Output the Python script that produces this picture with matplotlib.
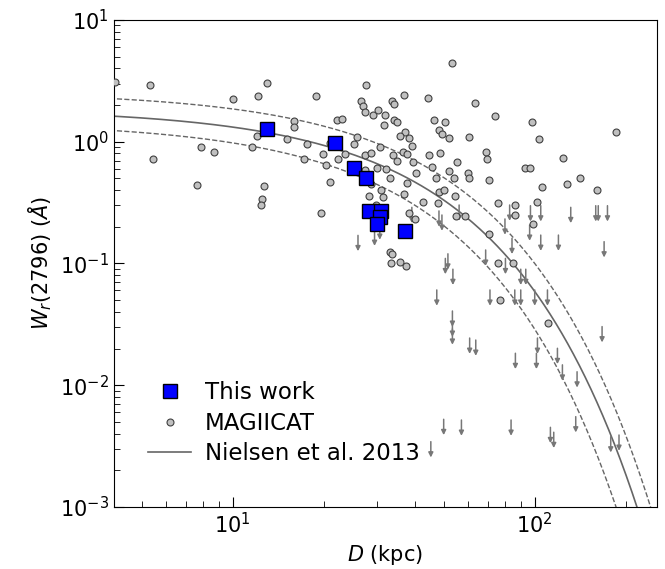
import numpy as np
import matplotlib
matplotlib.use("Agg")
import matplotlib.pyplot as plt

# This work
tw_D = [12.99, 21.8, 25.2, 27.6, 28.2, 31.1, 30.7, 30.1, 37.3]
tw_W = [1.27, 0.98, 0.61, 0.504, 0.271, 0.271, 0.239, 0.21, 0.186]

# MAGIICAT detections
mg_D = [4.09, 5.32, 10.0, 7.84, 8.67, 5.47, 7.62, 12.99, 12.13, 18.93,
        27.57, 26.6, 27.0, 27.5, 29.1, 30.3, 31.9, 16.0, 15.96, 22.1,
        23.1, 31.8, 12.07, 11.62, 15.13, 17.62, 25.8, 25.2, 30.7, 17.2,
        19.97, 20.4, 22.4, 23.5, 27.5, 28.8, 20.95, 30.1, 27.4,
        53.2, 36.9, 44.3, 63.6, 73.7, 33.7, 34.2, 34.2, 35.1, 46.4,
        50.5, 48.2, 49.5, 52.0, 60.6, 37.3, 35.7, 38.5, 39.1, 36.6,
        37.9, 34.0, 35.0, 39.5, 44.7, 48.4, 69.2, 69.4, 55.3, 45.7,
        52.0, 60.1, 32.3, 40.6, 47.3, 53.9, 60.6, 33.1, 70.6,
        98.0, 185.4, 103.1, 124.1, 92.7, 96.3, 140.9,
        12.7, 12.5, 12.4, 21.0, 19.6, 28.3, 28.8, 31.1, 31.5, 29.9,
        37.8, 37.0, 48.2, 50.1, 54.3, 42.7, 48.0, 38.4, 40.1, 55.0,
        58.8, 75.6, 85.9, 85.9, 70.4, 33.1, 33.7, 33.5, 35.7, 37.4,
        75.6, 84.8, 76.8,
        105.7, 127.9, 160.4, 101.8, 98.7, 110.7]
mg_W = [3.11, 2.94, 2.26, 0.90, 0.824, 0.722, 0.441, 3.02, 2.36, 2.38,
        2.91, 2.16, 1.98, 1.76, 1.66, 1.82, 1.66, 1.48, 1.31, 1.50,
        1.55, 1.37, 1.12, 0.90, 1.05, 0.964, 1.09, 0.953, 0.905, 0.718,
        0.798, 0.641, 0.718, 0.789, 0.774, 0.813, 0.971, 0.612, 0.583,
        4.44, 2.42, 2.28, 2.07, 1.61, 2.16, 2.03, 1.50, 1.45, 1.51,
        1.46, 1.25, 1.16, 1.08, 1.10, 1.20, 1.11, 1.07, 0.928, 0.829,
        0.798, 0.778, 0.699, 0.678, 0.778, 0.813, 0.829, 0.718, 0.682, 0.624,
        0.575, 0.551, 0.597, 0.551, 0.507, 0.501, 0.501, 0.501, 0.485,
        1.45, 1.20, 1.05, 0.731, 0.609, 0.605, 0.507,
        0.431, 0.339, 0.302, 0.467, 0.261, 0.360, 0.450, 0.402, 0.350, 0.302,
        0.458, 0.372, 0.384, 0.402, 0.360, 0.322, 0.312, 0.258, 0.231, 0.246,
        0.246, 0.312, 0.301, 0.250, 0.176, 0.125, 0.120, 0.101, 0.102, 0.0954,
        0.1004, 0.1004, 0.0501,
        0.427, 0.452, 0.402, 0.322, 0.210, 0.0323]

# MAGIICAT upper limits
ul_D = [26.0, 29.5, 30.7, 39.2, 48.2, 49.3, 56.2, 51.6, 50.6, 53.6,
        68.8, 80.0, 82.6, 79.7, 84.1, 47.4, 71.1, 85.9, 53.4, 53.4,
        53.4, 60.9, 63.8, 96.8, 104.7, 131.6, 159.2, 162.3, 174.1, 96.2,
        104.7, 119.8, 169.7, 89.9, 93.4, 89.9, 100.0, 110.2, 167.1, 86.3,
        49.96, 57.2, 83.5, 45.3, 102.1, 101.3, 118.9, 123.5, 138.1, 136.7,
        112.7, 115.6, 178.5, 190.1]
ul_W = [0.170, 0.188, 0.211, 0.289, 0.270, 0.250, 0.302, 0.120, 0.110, 0.0897,
        0.129, 0.110, 0.302, 0.232, 0.161, 0.0606, 0.0606, 0.0606, 0.0407, 0.0337,
        0.029, 0.0244, 0.0235, 0.298, 0.298, 0.289, 0.298, 0.298, 0.298, 0.207,
        0.171, 0.171, 0.151, 0.0897, 0.0897, 0.0606, 0.0606, 0.0606, 0.0303, 0.0183,
        0.00525, 0.00518, 0.00518, 0.00344, 0.0244, 0.0183, 0.0201, 0.0147, 0.0129, 0.00552,
        0.00451, 0.00411, 0.00378, 0.0039]

# Nielsen et al. 2013: log W = slope * D + intercept (with envelope)
fit_slope, fit_icpt = -0.015, 0.27
hi_slope, hi_icpt = -0.0141, 0.41
lo_slope, lo_icpt = -0.017, 0.16

fig, ax = plt.subplots(figsize=(6.65, 5.69), dpi=100)
plt.subplots_adjust(left=0.171, right=0.988, top=0.965, bottom=0.109)

dd = np.logspace(np.log10(3.5), np.log10(300), 400)
ax.plot(dd, 10 ** (fit_icpt + fit_slope * dd), color='#666666', lw=1.2,
        label='Nielsen et al. 2013', zorder=1)
ax.plot(dd, 10 ** (hi_icpt + hi_slope * dd), color='#666666', lw=1.0, ls='--', zorder=1)
ax.plot(dd, 10 ** (lo_icpt + lo_slope * dd), color='#666666', lw=1.0, ls='--', zorder=1)

# upper limits as downward arrows
for d, w in zip(ul_D, ul_W):
    ax.annotate('', xy=(d, w * 10 ** -0.13), xytext=(d, w),
                arrowprops=dict(arrowstyle='-|>', color='#777777', lw=1.1,
                                mutation_scale=7, shrinkA=0, shrinkB=0), zorder=2)

ax.plot(mg_D, mg_W, 'o', ms=5, mfc='#c0c0c0', mec='#404040', mew=0.8,
        ls='none', label='MAGIICAT', zorder=3)
ax.plot(tw_D, tw_W, 's', ms=10, mfc='blue', mec='black', mew=1.0,
        ls='none', label='This work', zorder=4)

ax.set_xscale('log')
ax.set_yscale('log')
ax.set_xlim(4.04, 254)
ax.set_ylim(1e-3, 10)
ax.set_xlabel(r'$D$ (kpc)', fontsize=15)
ax.set_ylabel(r'$W_r$(2796) ($\AA$)', fontsize=15)
ax.tick_params(which='both', direction='in', labelsize=15)
ax.tick_params(which='major', length=7)
ax.tick_params(which='minor', length=4)

h, l = ax.get_legend_handles_labels()
order = [2, 1, 0]
ax.legend([h[i] for i in order], [l[i] for i in order], loc='lower left',
          bbox_to_anchor=(0.025, 0.044), frameon=False, fontsize=16.5,
          labelspacing=0.32, handlelength=1.9, handletextpad=0.6)

plt.savefig('out.png', dpi=100)
